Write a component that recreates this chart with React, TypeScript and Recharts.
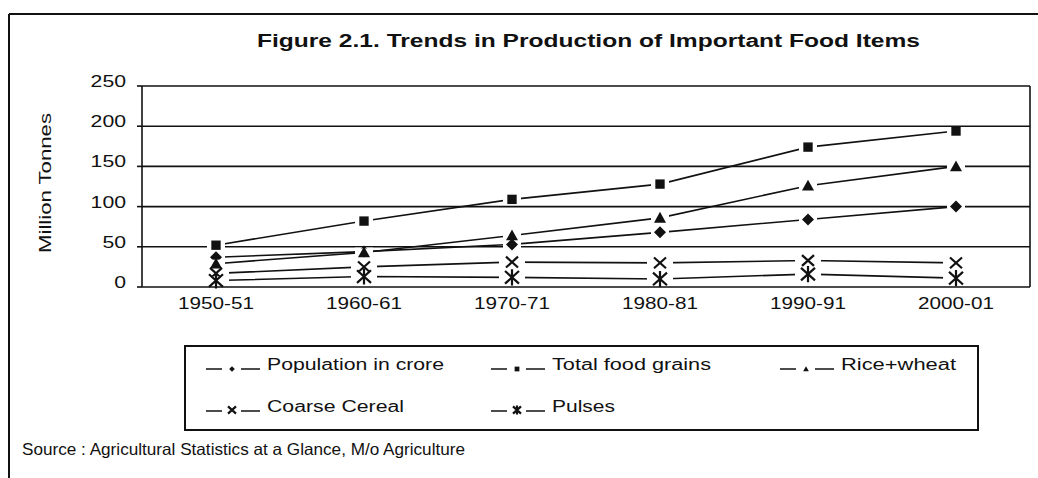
import { LineChart, Line, XAxis, YAxis, CartesianGrid, Legend, ReferenceLine } from "recharts";

const years = ["1950-51", "1960-61", "1970-71", "1980-81", "1990-91", "2000-01"];
const population = [37, 44, 53, 68, 84, 100];
const foodGrains = [52, 82, 109, 128, 174, 194];
const riceWheat = [29, 43, 64, 86, 126, 150];
const coarseCereal = [17, 25, 31, 30, 33, 30];
const pulses = [8, 13, 12, 10, 16, 11];
const yTicks = [0, 50, 100, 150, 200, 250];
const separators = [0.5, 1.5, 2.5, 3.5, 4.5];

const seriesNames = {
  population: "Population in crore",
  foodGrains: "Total food grains",
  riceWheat: "Rice+wheat",
  coarseCereal: "Coarse Cereal",
  pulses: "Pulses",
};
const seriesKeys = Object.keys(seriesNames) as (keyof typeof seriesNames)[];
const legendWidths: Record<string, number> = {
  population: 177,
  foodGrains: 159,
  riceWheat: 115,
  coarseCereal: 137,
  pulses: 63,
};

const data = years.map((year, i) => ({
  idx: i,
  year,
  population: population[i],
  foodGrains: foodGrains[i],
  riceWheat: riceWheat[i],
  coarseCereal: coarseCereal[i],
  pulses: pulses[i],
}));

const FONT = "'Liberation Sans', Arial, sans-serif";
const INK = "#111";

type Shape = "diamond" | "square" | "triangle" | "cross" | "star";

function markerPath(shape: Shape, cx: number, cy: number, s: number) {
  switch (shape) {
    case "diamond":
      return <path d={`M${cx},${cy - s} L${cx + s},${cy} L${cx},${cy + s} L${cx - s},${cy} Z`} fill={INK} />;
    case "square":
      return <rect x={cx - s * 0.85} y={cy - s * 0.85} width={s * 1.7} height={s * 1.7} fill={INK} />;
    case "triangle":
      return <path d={`M${cx},${cy - s} L${cx + s},${cy + s * 0.8} L${cx - s},${cy + s * 0.8} Z`} fill={INK} />;
    case "cross":
      return (
        <path
          d={`M${cx - s},${cy - s * 0.9} L${cx + s},${cy + s * 0.9} M${cx + s},${cy - s * 0.9} L${cx - s},${cy + s * 0.9}`}
          stroke={INK}
          strokeWidth={2.2}
        />
      );
    default:
      return (
        <path
          d={`M${cx - s},${cy - s * 0.9} L${cx + s},${cy + s * 0.9} M${cx + s},${cy - s * 0.9} L${cx - s},${cy + s * 0.9} M${cx},${cy - s * 1.15} L${cx},${cy + s * 1.15}`}
          stroke={INK}
          strokeWidth={2.2}
        />
      );
  }
}

function makeDot(shape: Shape) {
  const filled = shape !== "cross" && shape !== "star";
  const gap = filled ? 9 : 13;
  const size = shape === "square" ? 5.5 : shape === "star" ? 7 : 6;
  return (props: any) => {
    const { cx, cy, index } = props;
    if (cx == null || cy == null) return <g key={index} />;
    return (
      <g key={`${shape}-${index}`}>
        <rect x={cx - gap} y={cy - 4} width={gap * 2} height={8} fill="#fff" />
        {markerPath(shape, cx, cy, size)}
      </g>
    );
  };
}

const shapes: Record<string, Shape> = {
  population: "diamond",
  foodGrains: "square",
  riceWheat: "triangle",
  coarseCereal: "cross",
  pulses: "star",
};

function YTick(props: any) {
  const { x, y, payload } = props;
  const label = String(payload.value);
  return (
    <text
      x={x - 9}
      y={y + 1}
      textAnchor="end"
      fontFamily={FONT}
      fontSize={16.5}
      fill={INK}
      textLength={label.length * 11.8}
      lengthAdjust="spacingAndGlyphs"
    >
      {label}
    </text>
  );
}

function XTick(props: any) {
  const { x, y, payload } = props;
  const label = years[payload.value] ?? "";
  return (
    <text
      x={x}
      y={y + 14}
      textAnchor="middle"
      fontFamily={FONT}
      fontSize={16.5}
      fill={INK}
      textLength={76}
      lengthAdjust="spacingAndGlyphs"
    >
      {label}
    </text>
  );
}

function LegendBox(props: any) {
  const payload: any[] = props.payload || [];
  const cols = [22, 307, 596];
  const rows = [24, 66];
  return (
    <svg width={796} height={87} style={{ display: "block" }}>
      <rect x={1} y={1} width={793} height={84} fill="#fff" stroke={INK} strokeWidth={2} />
      {seriesKeys.map((key, i) => {
        const item = payload.find((p) => p.dataKey === key);
        const cx = cols[i % 3];
        const cy = rows[Math.floor(i / 3)];
        const shape = shapes[key];
        const isLine = shape === "cross" || shape === "star";
        const s = isLine ? 4 : 2.8;
        return (
          <g key={key}>
            <line x1={cx} x2={cx + 16} y1={cy} y2={cy} stroke={INK} strokeWidth={1.5} />
            <line x1={cx + 35} x2={cx + 54} y1={cy} y2={cy} stroke={INK} strokeWidth={1.5} />
            {markerPath(shape, cx + 26, cy - (isLine ? 1 : 0), s)}
            <text
              x={cx + 61}
              y={cy + 1}
              fontFamily={FONT}
              fontSize={16}
              fill={INK}
              textLength={legendWidths[key]}
              lengthAdjust="spacingAndGlyphs"
            >
              {item ? item.value : seriesNames[key]}
            </text>
          </g>
        );
      })}
    </svg>
  );
}

export default function App() {
  return (
    <div style={{ position: "fixed", left: 0, top: 0, width: 1038, height: 478, background: "#fff" }}>
      <svg width={1038} height={478} style={{ position: "absolute", left: 0, top: 0 }}>
        <line x1={9} x2={1038} y1={14} y2={14} stroke={INK} strokeWidth={2} />
        <line x1={9} x2={9} y1={14} y2={478} stroke={INK} strokeWidth={2} />
        <text
          x={257}
          y={47}
          fontFamily={FONT}
          fontSize={18}
          fontWeight="bold"
          fill={INK}
          textLength={663}
          lengthAdjust="spacingAndGlyphs"
        >
          Figure 2.1. Trends in Production of Important Food Items
        </text>
        <text
          x={22}
          y={455}
          fontFamily={FONT}
          fontSize={16.5}
          fill={INK}
          textLength={443}
          lengthAdjust="spacingAndGlyphs"
        >
          Source : Agricultural Statistics at a Glance, M/o Agriculture
        </text>
        <text
          transform="translate(51,183) rotate(-90)"
          textAnchor="middle"
          fontFamily={FONT}
          fontSize={16.5}
          fill={INK}
          textLength={140}
          lengthAdjust="spacingAndGlyphs"
        >
          Million Tonnes
        </text>
      </svg>
      <div style={{ position: "absolute", left: 0, top: 0 }}>
        <LineChart width={1038} height={478} data={data} margin={{ top: 86, right: 8, left: 82, bottom: 161 }}>
          <CartesianGrid horizontal vertical={false} stroke={INK} strokeWidth={1.6} />
          <XAxis
            xAxisId="sep"
            type="number"
            dataKey="idx"
            domain={[-0.5, 5.5]}
            ticks={separators}
            height={0}
            tick={false}
            tickSize={5}
            axisLine={false}
            tickLine={{ stroke: INK, strokeWidth: 1.5 }}
          />
          <XAxis
            type="number"
            dataKey="idx"
            domain={[-0.5, 5.5]}
            ticks={[0, 1, 2, 3, 4, 5]}
            height={30}
            axisLine={false}
            tickLine={false}
            tick={<XTick />}
          />
          <YAxis
            domain={[0, 250]}
            ticks={yTicks}
            width={60}
            tickSize={5}
            axisLine={{ stroke: INK, strokeWidth: 1.6 }}
            tickLine={{ stroke: INK, strokeWidth: 1.6 }}
            tick={<YTick />}
          />
          <ReferenceLine x={5.5} stroke={INK} strokeWidth={1.6} />
          <Legend
            layout="horizontal"
            verticalAlign="middle"
            align="center"
            wrapperStyle={{ left: 184, top: 345, width: 796, height: 87 }}
            content={<LegendBox />}
          />
          {seriesKeys.map((key) => (
            <Line
              key={key}
              dataKey={key}
              name={seriesNames[key]}
              stroke={INK}
              strokeWidth={1.6}
              type="linear"
              dot={makeDot(shapes[key])}
              activeDot={false}
              legendType="none"
              isAnimationActive={false}
            />
          ))}
        </LineChart>
      </div>
    </div>
  );
}
